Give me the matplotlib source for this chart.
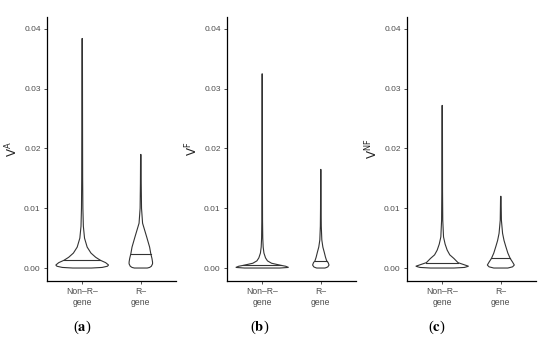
import numpy as np
import matplotlib
matplotlib.use("Agg")
import matplotlib.pyplot as plt

categories = ["Non\u2013R\u2013\ngene", "R\u2013\ngene"]
y_ticks = [0.00, 0.01, 0.02, 0.03, 0.04]
panel_tags = ["a", "b", "c"]
y_labels = ["A", "F", "NF"]

# violin outlines: value levels and half widths
a_non_y = [0, 0.0001, 0.0003, 0.0005, 0.0009, 0.0013, 0.0018, 0.0025, 0.0035, 0.005, 0.007, 0.01, 0.015, 0.025, 0.0384]
a_non_w = [0.16, 0.34, 0.43, 0.45, 0.40, 0.31, 0.23, 0.15, 0.085, 0.04, 0.02, 0.012, 0.008, 0.006, 0.004]
a_r_y = [0, 0.0001, 0.0003, 0.0007, 0.001, 0.0016, 0.0024, 0.0035, 0.0052, 0.0075, 0.01, 0.014, 0.019]
a_r_w = [0.11, 0.15, 0.18, 0.2, 0.2, 0.19, 0.17, 0.15, 0.1, 0.03, 0.012, 0.007, 0.004]

b_non_y = [0, 0.0001, 0.0003, 0.00045, 0.0008, 0.0012, 0.0017, 0.0025, 0.0035, 0.005, 0.008, 0.015, 0.0325]
b_non_w = [0.3, 0.45, 0.40, 0.32, 0.16, 0.09, 0.057, 0.03, 0.017, 0.01, 0.006, 0.004, 0.003]
b_r_y = [0, 0.0001, 0.0002, 0.0005, 0.0009, 0.0012, 0.0018, 0.0027, 0.0035, 0.0047, 0.007, 0.01, 0.0165]
b_r_w = [0.07, 0.1, 0.12, 0.14, 0.125, 0.1, 0.08, 0.057, 0.035, 0.017, 0.008, 0.005, 0.003]

c_non_y = [0, 0.0001, 0.0003, 0.0006, 0.0009, 0.0016, 0.0022, 0.003, 0.004, 0.0052, 0.008, 0.013, 0.0272]
c_non_w = [0.2, 0.38, 0.45, 0.36, 0.27, 0.2, 0.13, 0.085, 0.05, 0.023, 0.01, 0.006, 0.004]
c_r_y = [0, 0.0001, 0.0002, 0.0005, 0.001, 0.0016, 0.0025, 0.0036, 0.0046, 0.0058, 0.008, 0.012]
c_r_w = [0.12, 0.16, 0.2, 0.23, 0.2, 0.16, 0.12, 0.085, 0.055, 0.03, 0.01, 0.004]

medians = [[0.0013, 0.0024], [0.00045, 0.0012], [0.0009, 0.0016]]

outlines = [
    [(a_non_y, a_non_w), (a_r_y, a_r_w)],
    [(b_non_y, b_non_w), (b_r_y, b_r_w)],
    [(c_non_y, c_non_w), (c_r_y, c_r_w)],
]

line_col = "#333333"
text_col = "#4d4d4d"

fig = plt.figure(figsize=(5.5, 3.44), dpi=100)
lefts = [47 / 550, 227 / 550, 407 / 550]
tag_x = [82 / 550, 260 / 550, 437 / 550]

for i in range(3):
    ax = fig.add_axes([lefts[i], 1 - 281 / 344, 129 / 550, 264 / 344])
    for j, (ys, ws) in enumerate(outlines[i]):
        pos = j + 1
        ys = np.array(ys)
        ws = np.array(ws)
        xs = np.concatenate([pos - ws, (pos + ws)[::-1], [pos - ws[0]]])
        yy = np.concatenate([ys, ys[::-1], [ys[0]]])
        ax.fill(xs, yy, facecolor="white", edgecolor=line_col, linewidth=0.8)
        m = medians[i][j]
        hw = np.interp(m, ys, ws)
        ax.plot([pos - hw, pos + hw], [m, m], color=line_col, linewidth=0.8)

    ax.set_xlim(0.4, 2.6)
    ax.set_ylim(-0.00217, 0.042)
    ax.set_xticks([1, 2])
    ax.set_xticklabels(categories, fontsize=6.2, color=text_col,
                       family="Liberation Sans", linespacing=1.2)
    ax.set_yticks(y_ticks)
    ax.set_yticklabels([f"{t:.2f}" for t in y_ticks], fontsize=6,
                       color=text_col, family="Liberation Sans")
    ax.tick_params(length=2.5, width=0.6, color=line_col, pad=2)
    for s in ["top", "right"]:
        ax.spines[s].set_visible(False)
    for s in ["left", "bottom"]:
        ax.spines[s].set_linewidth(0.9)
        ax.spines[s].set_color("black")
    ax.set_ylabel(r"$\mathsf{V^{%s}}$" % y_labels[i], fontsize=8.5,
                  math_fontfamily="dejavusans", labelpad=3, color="#222222")

    fig.text(tag_x[i], 1 - 327 / 344, r"($\mathbf{%s}$)" % panel_tags[i],
             ha="center", va="center", fontsize=10.5,
             family="Liberation Serif", math_fontfamily="stix")

fig.savefig("out.png", dpi=100)
